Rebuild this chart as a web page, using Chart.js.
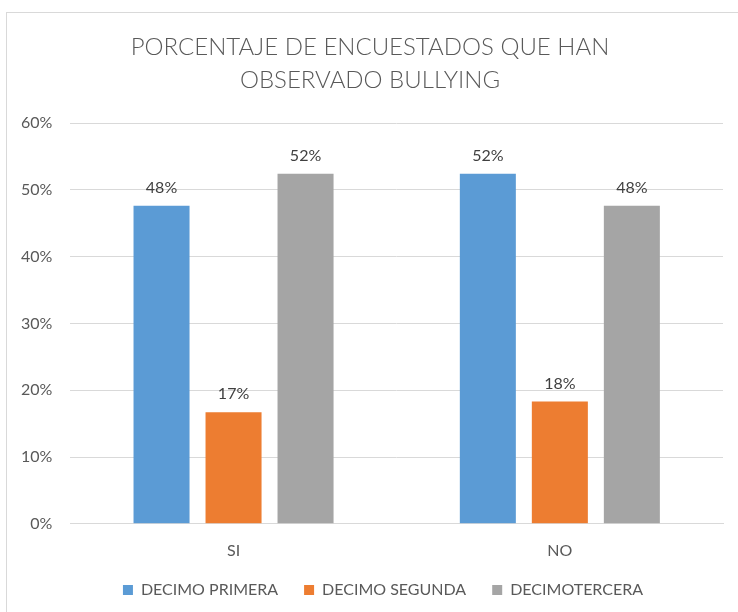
<!DOCTYPE html>
<html>
<head>
<meta charset="utf-8">
<script src="https://cdn.jsdelivr.net/npm/chart.js@4/dist/chart.umd.min.js"></script>
<style>
  html, body { margin: 0; padding: 0; background: #ffffff; }
  #wrap { position: relative; width: 738px; height: 612px; overflow: hidden; }
  #frame { position: absolute; left: 6px; top: 12px; width: 760px; height: 640px; border: 1px solid #d9d9d9; box-sizing: border-box; }
  #c { position: absolute; left: 0; top: 0; }
</style>
</head>
<body>
<div id="wrap">
  <div id="frame"></div>
  <canvas id="c" width="738" height="612"></canvas>
</div>
<script>
const titleLines = ['PORCENTAJE DE ENCUESTADOS QUE HAN', 'OBSERVADO BULLYING'];
const categories = ['SI', 'NO'];
const seriesNames = ['DECIMO PRIMERA', 'DECIMO SEGUNDA', 'DECIMOTERCERA'];
const decimoPrimera = [47.6, 52.4];
const decimoSegunda = [16.7, 18.3];
const decimoTercera = [52.4, 47.6];
const seriesColors = ['#5B9BD5', '#ED7D31', '#A5A5A5'];
const yTicks = [0, 10, 20, 30, 40, 50, 60];

const FONT = 'Lato, "Open Sans", sans-serif';

const tweaks = {
  id: 'tweaks',
  beforeLayout(chart) {
    const lg = chart.legend;
    if (lg && !lg._patched) {
      const f = lg.fit;
      lg.fit = function () { f.call(this); this.height -= 22; };
      lg._patched = true;
    }
  },
  afterLayout(chart) {
    chart.legend.left += 20; chart.legend.right += 20;
    chart.legend.top -= 21;
    chart.titleBlock.left += 7; chart.titleBlock.right += 7;
  },
  afterDatasetsDraw(chart) {
    const ctx = chart.ctx;
    ctx.save();
    ctx.font = '16px ' + FONT;
    ctx.fillStyle = '#404040';
    ctx.textAlign = 'center';
    ctx.textBaseline = 'alphabetic';
    chart.data.datasets.forEach((ds, i) => {
      const meta = chart.getDatasetMeta(i);
      meta.data.forEach((bar, j) => {
        ctx.fillText(Math.round(ds.data[j]) + '%', bar.x, bar.y - 13);
      });
    });
    ctx.restore();
  }
};

const allSeries = [decimoPrimera, decimoSegunda, decimoTercera];
new Chart(document.getElementById('c'), {
  type: 'bar',
  data: {
    labels: categories,
    datasets: allSeries.map((d, i) => ({
      label: seriesNames[i],
      data: d,
      backgroundColor: seriesColors[i],
      borderWidth: 0,
      categoryPercentage: 0.662,
      barPercentage: 0.778
    }))
  },
  options: {
    responsive: false,
    animation: false,
    devicePixelRatio: 1,
    layout: { padding: { left: 3, right: 15, top: 22, bottom: 5 } },
    scales: {
      x: {
        grid: { display: false, drawTicks: false },
        border: { display: true, color: '#d9d9d9' },
        ticks: { color: '#595959', font: { family: FONT, size: 16 }, padding: 17 }
      },
      y: {
        min: 0, max: 60,
        afterBuildTicks(axis) { axis.ticks = yTicks.map(v => ({ value: v })); },
        grid: { color: '#d9d9d9', drawTicks: false },
        border: { display: false },
        ticks: { color: '#595959', font: { family: FONT, size: 16 }, padding: 18,
                 callback: v => v + '%' }
      }
    },
    plugins: {
      title: {
        display: true,
        text: titleLines,
        color: '#595959',
        font: { family: FONT, size: 24, weight: '300', lineHeight: 1.375 },
        padding: { top: 9, bottom: 26 }
      },
      legend: {
        position: 'bottom',
        labels: {
          color: '#595959',
          font: { family: FONT, size: 16 },
          boxWidth: 10, boxHeight: 10, padding: 26
        }
      },
      tooltip: { enabled: false }
    }
  },
  plugins: [tweaks]
});
</script>
</body>
</html>
